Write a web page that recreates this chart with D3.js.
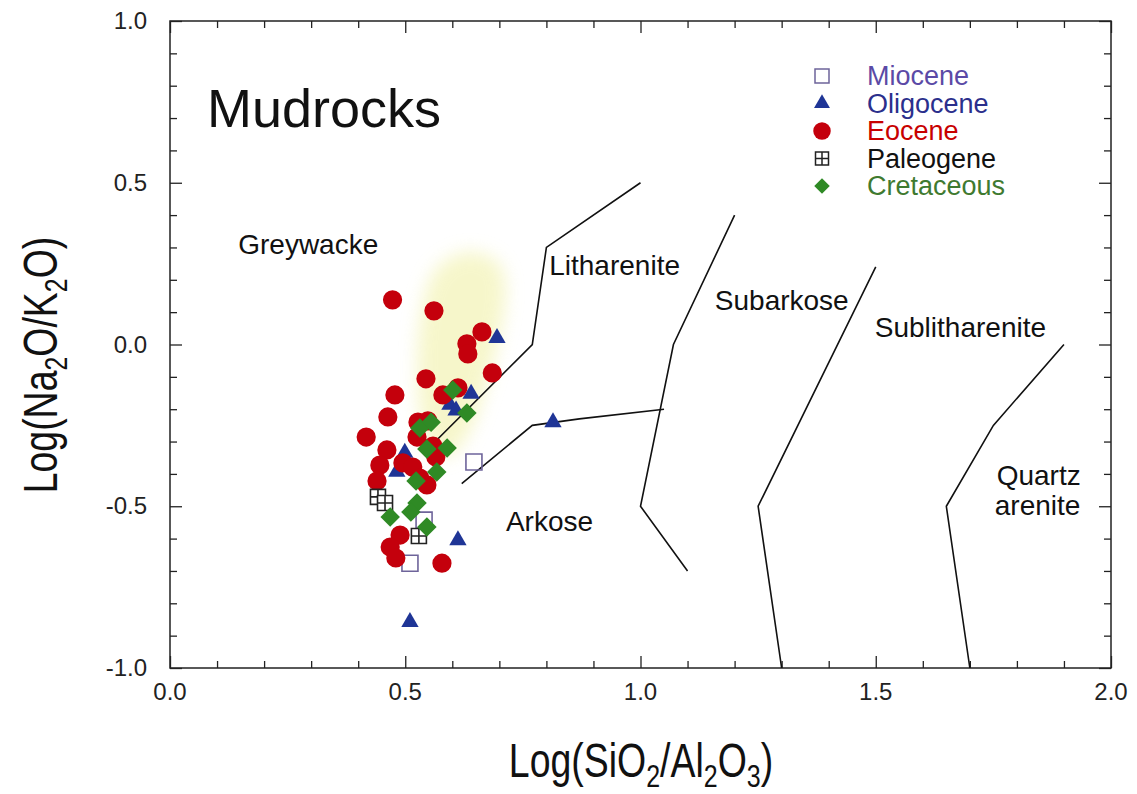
<!DOCTYPE html>
<html>
<head>
<meta charset="utf-8">
<script src="https://cdn.jsdelivr.net/npm/d3@7"></script>
<style>
body { margin: 0; background: #fff; }
svg text { font-family: "Liberation Sans", Arial, Helvetica, sans-serif; }
</style>
</head>
<body>
<div id="chart"></div>
<script>
var width = 1137;
var height = 794;

// data: [log(SiO2/Al2O3), log(Na2O/K2O)]
var miocene = [[0.646,-0.363],[0.540,-0.543],[0.510,-0.676]];
var oligocene = [[0.695,0.020],[0.814,-0.240],[0.640,-0.152],[0.595,-0.186],[0.608,-0.204],
	[0.499,-0.335],[0.482,-0.393],[0.612,-0.605],[0.510,-0.858]];
var eocene = [[0.473,0.138],[0.561,0.104],[0.663,0.039],[0.631,0.002],[0.633,-0.029],
	[0.685,-0.088],[0.544,-0.106],[0.478,-0.156],[0.612,-0.134],[0.580,-0.156],
	[0.463,-0.224],[0.527,-0.240],[0.548,-0.236],[0.417,-0.286],[0.461,-0.326],
	[0.525,-0.286],[0.559,-0.314],[0.565,-0.348],[0.446,-0.373],[0.495,-0.366],
	[0.516,-0.379],[0.531,-0.413],[0.546,-0.434],[0.440,-0.422],[0.489,-0.589],
	[0.468,-0.626],[0.480,-0.660],[0.578,-0.676]];
var paleogene = [[0.442,-0.471],[0.457,-0.490],[0.529,-0.592]];
var cretaceous = [[0.601,-0.141],[0.631,-0.212],[0.531,-0.258],[0.555,-0.240],[0.546,-0.323],
	[0.589,-0.320],[0.567,-0.394],[0.523,-0.422],[0.525,-0.490],[0.512,-0.518],
	[0.468,-0.533],[0.546,-0.564]];

// field boundaries
var lineA = [[1.0,0.5],[0.8,0.3],[0.77,0.0],[0.55,-0.32]];
var lineArkose = [[0.62,-0.43],[0.77,-0.25],[0.87,-0.23],[1.05,-0.2]];
var lineB = [[1.2,0.4],[1.07,0.0],[1.0,-0.5],[1.1,-0.7]];
var lineC = [[1.5,0.24],[1.25,-0.5],[1.3,-1.0]];
var lineD = [[1.9,0.0],[1.75,-0.25],[1.65,-0.5],[1.7,-1.0]];

// shaded field
var blob = [[0.574,0.246],[0.638,0.286],[0.701,0.246],[0.712,0.138],[0.695,-0.002],
	[0.669,-0.141],[0.638,-0.264],[0.595,-0.342],[0.553,-0.326],[0.531,-0.202],
	[0.527,-0.017],[0.542,0.153]];

var fieldNames = ["Greywacke","Litharenite","Subarkose","Sublitharenite","Arkose","Quartz","arenite"];
var fieldPos = [[0.145,0.28],[0.806,0.215],[1.158,0.106],[1.498,0.024],[0.714,-0.575],[1.757,-0.434],[1.753,-0.527]];

var legendNames = ["Miocene","Oligocene","Eocene","Paleogene","Cretaceous"];
var legendColors = ["#5b4aa6","#2b2f8c","#c80000","#111111","#3f7a30"];

var xTicks = [0.0,0.5,1.0,1.5,2.0];
var yTicks = [-1.0,-0.5,0.0,0.5,1.0];

var plotL = 170, plotR = 1111, plotT = 21, plotB = 668;

var x = d3.scaleLinear().domain([0,2]).range([plotL,plotR]);
var y = d3.scaleLinear().domain([-1,1]).range([plotB,plotT]);

var svg = d3.select("#chart")
	.append("svg")
	.attr("width", width)
	.attr("height", height);

var defs = svg.append("defs");
defs.append("filter").attr("id","blur")
	.attr("x","-50%").attr("y","-50%").attr("width","200%").attr("height","200%")
	.append("feGaussianBlur").attr("stdDeviation", 9);

// yellow field
svg.append("path")
	.datum(blob)
	.attr("d", d3.line().x(function(d){return x(d[0]);}).y(function(d){return y(d[1]);}).curve(d3.curveCardinalClosed))
	.attr("fill", "#f1f1a8")
	.attr("opacity", 0.6)
	.attr("filter", "url(#blur)");

// frame
svg.append("rect")
	.attr("x", plotL).attr("y", plotT)
	.attr("width", plotR-plotL).attr("height", plotB-plotT)
	.attr("fill", "none")
	.attr("stroke", "#222")
	.attr("stroke-width", 1.5);

// ticks (inward on all four sides)
var minor = d3.range(0, 21).map(function(i){return i/10;});
var minorY = d3.range(-10, 11).map(function(i){return i/10;});
function isMajor(v){ return Math.abs(v*2 - Math.round(v*2)) < 1e-6; }

var gx = svg.append("g").attr("transform","translate(0,"+plotB+")")
	.call(d3.axisBottom(x).tickValues(minor).tickSizeOuter(0).tickFormat(""));
var gxt = svg.append("g").attr("transform","translate(0,"+plotT+")")
	.call(d3.axisTop(x).tickValues(minor).tickSizeOuter(0).tickFormat(""));
var gy = svg.append("g").attr("transform","translate("+plotL+",0)")
	.call(d3.axisLeft(y).tickValues(minorY).tickSizeOuter(0).tickFormat(""));
var gyr = svg.append("g").attr("transform","translate("+plotR+",0)")
	.call(d3.axisRight(y).tickValues(minorY).tickSizeOuter(0).tickFormat(""));
[gx,gxt,gy,gyr].forEach(function(g){
	g.select(".domain").remove();
	g.selectAll("line").attr("stroke","#222").attr("stroke-width",1.3);
});
gx.selectAll(".tick line").attr("y2", function(d){return isMajor(d) ? -12 : -7;});
gxt.selectAll(".tick line").attr("y2", function(d){return isMajor(d) ? 12 : 7;});
gy.selectAll(".tick line").attr("x2", function(d){return isMajor(d) ? 12 : 7;});
gyr.selectAll(".tick line").attr("x2", function(d){return isMajor(d) ? -12 : -7;});

// tick labels
svg.append("g").selectAll("text")
	.data(xTicks).enter().append("text")
	.attr("x", function(d){return x(d);})
	.attr("y", plotB + 32)
	.attr("text-anchor","middle")
	.attr("font-size", 24)
	.attr("fill","#222")
	.text(function(d){return d.toFixed(1);});

svg.append("g").selectAll("text")
	.data(yTicks).enter().append("text")
	.attr("x", 147)
	.attr("y", function(d){return y(d) + 8;})
	.attr("text-anchor","end")
	.attr("font-size", 24)
	.attr("fill","#222")
	.text(function(d){return d.toFixed(1);});

// axis titles
function subTitle(g, parts){
	var t = g.append("text").attr("font-size", 48).attr("fill","#111").attr("text-anchor","middle");
	parts.forEach(function(p){
		if (p[1]) {
			t.append("tspan").attr("font-size", 32).attr("dy", 10).text(p[0]);
		} else {
			t.append("tspan").attr("dy", p[2] ? -10 : 0).text(p[0]);
		}
	});
	return t;
}
var xt = svg.append("g").attr("transform","translate(641,777) scale(0.78,1)");
subTitle(xt, [["Log(SiO"],["2",true],["/Al",false,true],["2",true],["O",false,true],["3",true],[")",false,true]]);

var yt = svg.append("g").attr("transform","translate(57,365) rotate(-90) scale(0.78,1)");
subTitle(yt, [["Log(Na"],["2",true],["O/K",false,true],["2",true],["O)",false,true]]);

// field boundaries
var line = d3.line().x(function(d){return x(d[0]);}).y(function(d){return y(d[1]);});
[lineA, lineArkose, lineB, lineC, lineD].forEach(function(l){
	svg.append("path").datum(l)
		.attr("d", line)
		.attr("fill","none")
		.attr("stroke","#111")
		.attr("stroke-width",1.6);
});

// field names
svg.append("g").selectAll("text")
	.data(fieldNames).enter().append("text")
	.attr("x", function(d,i){return x(fieldPos[i][0]);})
	.attr("y", function(d,i){return y(fieldPos[i][1]);})
	.attr("font-size", 28)
	.attr("fill","#111")
	.text(function(d){return d;});

svg.append("text")
	.attr("x", 207).attr("y", 127)
	.attr("font-size", 54)
	.attr("fill","#111")
	.text("Mudrocks");

// symbols
var sqPath = d3.symbol().type(d3.symbolSquare).size(256)();
var triPath = d3.symbol().type(d3.symbolTriangle).size(130)();
var circPath = d3.symbol().type(d3.symbolCircle).size(290)();
var diaPath = d3.symbol().type(d3.symbolSquare).size(190)();
var crossPath = "M-7.5,-7.5H7.5V7.5H-7.5Z M0,-7.5V7.5 M-7.5,0H7.5";

function drawSeries(data, draw){
	var g = svg.append("g");
	g.selectAll("path").data(data).enter().append("path")
		.attr("transform", function(d){return "translate("+x(d[0])+","+y(d[1])+")";})
		.call(draw);
}
drawSeries(miocene, function(s){ s.attr("d", sqPath).attr("fill","none").attr("stroke","#6e649a").attr("stroke-width",1.6); });
drawSeries(oligocene, function(s){ s.attr("d", triPath).attr("fill","#1f3596"); });
drawSeries(eocene, function(s){ s.attr("d", circPath).attr("fill","#c4000c"); });
drawSeries(paleogene, function(s){ s.attr("d", crossPath).attr("fill","#fff").attr("stroke","#222").attr("stroke-width",1.6); });
drawSeries(cretaceous, function(s){ s.attr("d", diaPath).attr("fill","#2f8a25")
	.attr("transform", function(d){return "translate("+x(d[0])+","+y(d[1])+") rotate(45)";}); });

// legend
var legendSym = [
	function(s){ s.attr("d", d3.symbol().type(d3.symbolSquare).size(196)()).attr("fill","none").attr("stroke","#6e649a").attr("stroke-width",1.5); },
	function(s){ s.attr("d", d3.symbol().type(d3.symbolTriangle).size(110)()).attr("fill","#1f3596"); },
	function(s){ s.attr("d", d3.symbol().type(d3.symbolCircle).size(240)()).attr("fill","#c4000c"); },
	function(s){ s.attr("d", "M-6.5,-6.5H6.5V6.5H-6.5Z M0,-6.5V6.5 M-6.5,0H6.5").attr("fill","#fff").attr("stroke","#222").attr("stroke-width",1.5); },
	function(s){ s.attr("d", d3.symbol().type(d3.symbolSquare).size(120)()).attr("fill","#2f8a25"); }
];
var legend = svg.append("g");
legendNames.forEach(function(name, i){
	var yy = 76 + i*27.5;
	var p = legend.append("path").call(legendSym[i]);
	p.attr("transform", "translate(822,"+yy+")" + (i == 4 ? " rotate(45)" : ""));
	legend.append("text")
		.attr("x", 867)
		.attr("y", yy + 9)
		.attr("font-size", 27)
		.attr("fill", legendColors[i])
		.text(name);
});
</script>
</body>
</html>
